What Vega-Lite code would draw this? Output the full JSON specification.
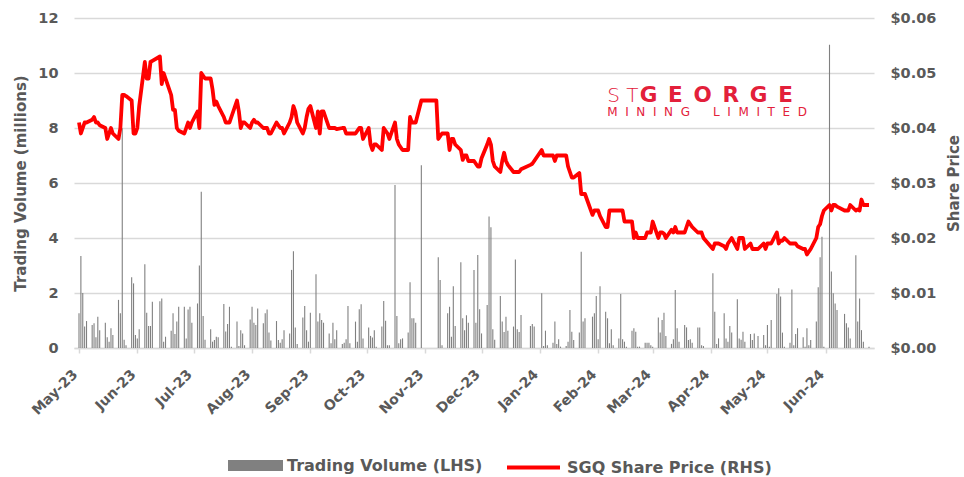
{
  "$schema": "https://vega.github.io/schema/vega-lite/v6.json",
  "width": 800,
  "height": 330,
  "autosize": {"type": "none"},
  "padding": {"left": 74, "top": 18, "right": 90, "bottom": 129},
  "background": "white",
  "data": {"values": [
    {"d":"2023-05-01","v":1.26,"p":0.041},{"d":"2023-05-02","v":3.35,"p":0.039},{"d":"2023-05-03","v":2.0,"p":0.040},{"d":"2023-05-04","v":0.78,"p":0.041},{"d":"2023-05-05","v":0.98,"p":0.041},
    {"d":"2023-05-08","v":0.84,"p":0.0415},{"d":"2023-05-09","v":0.9,"p":0.042},{"d":"2023-05-10","v":0.39,"p":0.041},{"d":"2023-05-11","v":1.14,"p":0.041},{"d":"2023-05-12","v":0.65,"p":0.0405},
    {"d":"2023-05-15","v":0.92,"p":0.040},{"d":"2023-05-16","v":0.39,"p":0.038},{"d":"2023-05-17","v":0.23,"p":0.039},{"d":"2023-05-18","v":0.72,"p":0.040},{"d":"2023-05-19","v":0.47,"p":0.039},
    {"d":"2023-05-22","v":1.75,"p":0.038},{"d":"2023-05-23","v":1.26,"p":0.040},{"d":"2023-05-24","v":7.99,"p":0.046},{"d":"2023-05-25","v":0.3,"p":0.046},{"d":"2023-05-26","v":0.1,"p":0.0458},
    {"d":"2023-05-29","v":2.57,"p":0.045},{"d":"2023-05-30","v":2.35,"p":0.039},{"d":"2023-05-31","v":0.47,"p":0.039},{"d":"2023-06-01","v":0.35,"p":0.040},{"d":"2023-06-02","v":0.68,"p":0.044},
    {"d":"2023-06-05","v":3.05,"p":0.052},{"d":"2023-06-06","v":1.28,"p":0.049},{"d":"2023-06-07","v":0.8,"p":0.049},{"d":"2023-06-08","v":0.8,"p":0.052},{"d":"2023-06-09","v":1.68,"p":0.0522},
    {"d":"2023-06-13","v":1.7,"p":0.053},{"d":"2023-06-14","v":1.8,"p":0.048},{"d":"2023-06-15","v":0.23,"p":0.050},{"d":"2023-06-16","v":0.41,"p":0.049},
    {"d":"2023-06-19","v":0.63,"p":0.046},{"d":"2023-06-20","v":1.26,"p":0.0433},{"d":"2023-06-21","v":0.51,"p":0.0433},{"d":"2023-06-22","v":0.96,"p":0.040},{"d":"2023-06-23","v":1.5,"p":0.0395},
    {"d":"2023-06-26","v":1.5,"p":0.039},{"d":"2023-06-27","v":0.35,"p":0.040},{"d":"2023-06-28","v":1.4,"p":0.041},{"d":"2023-06-29","v":1.5,"p":0.040},{"d":"2023-06-30","v":0.92,"p":0.041},
    {"d":"2023-07-03","v":1.62,"p":0.043},{"d":"2023-07-04","v":3.0,"p":0.040},{"d":"2023-07-05","v":5.68,"p":0.050},{"d":"2023-07-06","v":1.16,"p":0.0495},{"d":"2023-07-07","v":0.3,"p":0.049},
    {"d":"2023-07-10","v":0.68,"p":0.049},{"d":"2023-07-11","v":0.23,"p":0.047},{"d":"2023-07-12","v":0.29,"p":0.0442},{"d":"2023-07-13","v":0.41,"p":0.0448},{"d":"2023-07-14","v":0.39,"p":0.044},
    {"d":"2023-07-17","v":1.6,"p":0.042},{"d":"2023-07-18","v":0.6,"p":0.041},{"d":"2023-07-19","v":0.87,"p":0.041},{"d":"2023-07-20","v":1.5,"p":0.041},{"d":"2023-07-21","v":0.05,"p":0.042},
    {"d":"2023-07-24","v":0.96,"p":0.045},{"d":"2023-07-25","v":0.07,"p":0.043},{"d":"2023-07-26","v":0.65,"p":0.040},{"d":"2023-07-27","v":0.53,"p":0.041},{"d":"2023-07-28","v":0.1,"p":0.041},
    {"d":"2023-07-31","v":1.04,"p":0.040},{"d":"2023-08-01","v":1.5,"p":0.041},{"d":"2023-08-02","v":0.92,"p":0.0415},{"d":"2023-08-03","v":0.84,"p":0.041},{"d":"2023-08-04","v":1.44,"p":0.041},
    {"d":"2023-08-07","v":0.9,"p":0.040},{"d":"2023-08-08","v":1.26,"p":0.040},{"d":"2023-08-09","v":1.4,"p":0.040},{"d":"2023-08-10","v":0.56,"p":0.039},{"d":"2023-08-11","v":0.27,"p":0.039},
    {"d":"2023-08-14","v":0.98,"p":0.041},{"d":"2023-08-15","v":0.29,"p":0.0405},{"d":"2023-08-16","v":0.19,"p":0.040},{"d":"2023-08-17","v":0.32,"p":0.040},{"d":"2023-08-18","v":0.65,"p":0.039},
    {"d":"2023-08-21","v":0.53,"p":0.041},{"d":"2023-08-22","v":2.84,"p":0.042},{"d":"2023-08-23","v":3.52,"p":0.044},{"d":"2023-08-24","v":0.75,"p":0.043},{"d":"2023-08-25","v":0.15,"p":0.041},
    {"d":"2023-08-28","v":1.11,"p":0.039},{"d":"2023-08-29","v":1.53,"p":0.040},{"d":"2023-08-30","v":0.65,"p":0.042},{"d":"2023-08-31","v":0.23,"p":0.0435},{"d":"2023-09-01","v":1.28,"p":0.044},
    {"d":"2023-09-04","v":2.68,"p":0.040},{"d":"2023-09-05","v":0.96,"p":0.043},{"d":"2023-09-06","v":1.26,"p":0.039},{"d":"2023-09-07","v":1.02,"p":0.043},{"d":"2023-09-08","v":0.92,"p":0.043},
    {"d":"2023-09-11","v":0.53,"p":0.040},{"d":"2023-09-12","v":0.17,"p":0.040},{"d":"2023-09-13","v":0.92,"p":0.040},{"d":"2023-09-14","v":0.32,"p":0.040},{"d":"2023-09-15","v":0.65,"p":0.0398},
    {"d":"2023-09-18","v":0.15,"p":0.040},{"d":"2023-09-19","v":0.19,"p":0.040},{"d":"2023-09-20","v":0.32,"p":0.039},{"d":"2023-09-21","v":1.53,"p":0.039},{"d":"2023-09-22","v":0.17,"p":0.039},
    {"d":"2023-09-25","v":0.96,"p":0.039},{"d":"2023-09-26","v":0.23,"p":0.0395},{"d":"2023-09-27","v":1.41,"p":0.040},{"d":"2023-09-28","v":1.59,"p":0.040},{"d":"2023-09-29","v":0.35,"p":0.038},
    {"d":"2023-10-02","v":0.75,"p":0.040},{"d":"2023-10-03","v":0.44,"p":0.037},{"d":"2023-10-04","v":0.38,"p":0.036},{"d":"2023-10-05","v":0.65,"p":0.037},{"d":"2023-10-06","v":0.05,"p":0.037},
    {"d":"2023-10-09","v":0.78,"p":0.036},{"d":"2023-10-10","v":1.71,"p":0.040},{"d":"2023-10-11","v":0.99,"p":0.0395},{"d":"2023-10-12","v":0.1,"p":0.039},{"d":"2023-10-13","v":0.1,"p":0.038},
    {"d":"2023-10-16","v":5.93,"p":0.041},{"d":"2023-10-17","v":1.16,"p":0.038},{"d":"2023-10-18","v":0.17,"p":0.037},{"d":"2023-10-19","v":0.32,"p":0.0365},{"d":"2023-10-20","v":0.35,"p":0.036},
    {"d":"2023-10-23","v":0.56,"p":0.036},{"d":"2023-10-24","v":2.39,"p":0.042},{"d":"2023-10-25","v":1.08,"p":0.041},{"d":"2023-10-26","v":1.08,"p":0.041},{"d":"2023-10-27","v":0.92,"p":0.041},
    {"d":"2023-10-30","v":6.65,"p":0.045},{"d":"2023-10-31","v":0,"p":0.045},{"d":"2023-11-01","v":0,"p":0.045},{"d":"2023-11-02","v":0,"p":0.045},{"d":"2023-11-03","v":0,"p":0.045},
    {"d":"2023-11-06","v":0,"p":0.045},{"d":"2023-11-07","v":0,"p":0.045},{"d":"2023-11-08","v":3.3,"p":0.038},{"d":"2023-11-09","v":2.47,"p":0.0385},{"d":"2023-11-10","v":0.1,"p":0.039},
    {"d":"2023-11-13","v":1.26,"p":0.039},{"d":"2023-11-14","v":1.5,"p":0.036},{"d":"2023-11-15","v":0.41,"p":0.038},{"d":"2023-11-16","v":2.25,"p":0.038},{"d":"2023-11-17","v":0.8,"p":0.037},
    {"d":"2023-11-20","v":3.12,"p":0.036},{"d":"2023-11-21","v":1.08,"p":0.0342},{"d":"2023-11-22","v":0.65,"p":0.035},{"d":"2023-11-23","v":1.19,"p":0.035},{"d":"2023-11-24","v":0.92,"p":0.034},
    {"d":"2023-11-27","v":2.84,"p":0.034},{"d":"2023-11-28","v":0.92,"p":0.0335},{"d":"2023-11-29","v":3.38,"p":0.033},{"d":"2023-11-30","v":1.41,"p":0.033},{"d":"2023-12-01","v":0.53,"p":0.0345},
    {"d":"2023-12-04","v":1.56,"p":0.037},{"d":"2023-12-05","v":4.78,"p":0.038},{"d":"2023-12-06","v":4.39,"p":0.037},{"d":"2023-12-07","v":0.68,"p":0.034},{"d":"2023-12-08","v":0.3,"p":0.033},
    {"d":"2023-12-11","v":1.89,"p":0.032},{"d":"2023-12-12","v":0.96,"p":0.034},{"d":"2023-12-13","v":0.58,"p":0.0355},{"d":"2023-12-14","v":1.14,"p":0.034},{"d":"2023-12-15","v":0.63,"p":0.0333},
    {"d":"2023-12-18","v":0.78,"p":0.032},{"d":"2023-12-19","v":3.22,"p":0.032},{"d":"2023-12-20","v":0.68,"p":0.032},{"d":"2023-12-21","v":0.58,"p":0.032},{"d":"2023-12-22","v":1.2,"p":0.0325},
    {"d":"2023-12-27","v":0.8,"p":0.0333},{"d":"2023-12-28","v":0.87,"p":0.0335},{"d":"2023-12-29","v":0.78,"p":0.034},
    {"d":"2024-01-02","v":1.99,"p":0.036},{"d":"2024-01-03","v":0.07,"p":0.035},{"d":"2024-01-04","v":0.63,"p":0.035},{"d":"2024-01-05","v":0.1,"p":0.035},
    {"d":"2024-01-08","v":0.19,"p":0.035},{"d":"2024-01-09","v":0.96,"p":0.034},{"d":"2024-01-10","v":0.15,"p":0.035},{"d":"2024-01-11","v":0.32,"p":0.035},{"d":"2024-01-12","v":0.05,"p":0.035},
    {"d":"2024-01-15","v":0.07,"p":0.035},{"d":"2024-01-16","v":0.23,"p":0.033},{"d":"2024-01-17","v":1.38,"p":0.032},{"d":"2024-01-18","v":0.59,"p":0.031},{"d":"2024-01-19","v":0.29,"p":0.031},
    {"d":"2024-01-22","v":0.56,"p":0.0318},{"d":"2024-01-23","v":3.5,"p":0.028},{"d":"2024-01-24","v":0.96,"p":0.028},{"d":"2024-01-25","v":1.08,"p":0.028},
    {"d":"2024-01-29","v":1.14,"p":0.0242},{"d":"2024-01-30","v":1.26,"p":0.025},{"d":"2024-01-31","v":1.89,"p":0.025},{"d":"2024-02-01","v":0.32,"p":0.025},{"d":"2024-02-02","v":2.25,"p":0.024},
    {"d":"2024-02-05","v":1.32,"p":0.022},{"d":"2024-02-06","v":1.08,"p":0.022},{"d":"2024-02-07","v":0.17,"p":0.025},{"d":"2024-02-08","v":0.68,"p":0.025},{"d":"2024-02-09","v":0.1,"p":0.025},
    {"d":"2024-02-12","v":0.35,"p":0.025},{"d":"2024-02-13","v":1.96,"p":0.025},{"d":"2024-02-14","v":0.32,"p":0.025},{"d":"2024-02-15","v":0.23,"p":0.023},{"d":"2024-02-16","v":0.05,"p":0.023},
    {"d":"2024-02-19","v":0.63,"p":0.023},{"d":"2024-02-20","v":0.72,"p":0.020},{"d":"2024-02-21","v":0.59,"p":0.021},{"d":"2024-02-22","v":0.05,"p":0.020},{"d":"2024-02-23","v":0.05,"p":0.020},
    {"d":"2024-02-26","v":0.19,"p":0.020},{"d":"2024-02-27","v":0.19,"p":0.021},{"d":"2024-02-28","v":0.19,"p":0.021},{"d":"2024-02-29","v":0.1,"p":0.021},{"d":"2024-03-01","v":0.05,"p":0.023},
    {"d":"2024-03-04","v":1.11,"p":0.020},{"d":"2024-03-05","v":0.56,"p":0.021},{"d":"2024-03-06","v":1.02,"p":0.021},{"d":"2024-03-07","v":1.28,"p":0.0208},{"d":"2024-03-08","v":0.44,"p":0.020},
    {"d":"2024-03-11","v":0.15,"p":0.0215},{"d":"2024-03-12","v":0.32,"p":0.021},{"d":"2024-03-13","v":2.11,"p":0.022},{"d":"2024-03-14","v":0.72,"p":0.021},{"d":"2024-03-15","v":0.23,"p":0.021},
    {"d":"2024-03-18","v":0.84,"p":0.021},{"d":"2024-03-19","v":0.75,"p":0.022},{"d":"2024-03-20","v":0.29,"p":0.023},{"d":"2024-03-21","v":0.32,"p":0.0225},{"d":"2024-03-22","v":0.19,"p":0.022},
    {"d":"2024-03-25","v":0.75,"p":0.021},{"d":"2024-03-26","v":0.75,"p":0.021},{"d":"2024-03-27","v":0.1,"p":0.021},{"d":"2024-03-28","v":0.07,"p":0.020},
    {"d":"2024-04-02","v":2.72,"p":0.018},{"d":"2024-04-03","v":1.32,"p":0.019},{"d":"2024-04-04","v":0.15,"p":0.019},{"d":"2024-04-05","v":0.35,"p":0.019},
    {"d":"2024-04-08","v":1.26,"p":0.0185},{"d":"2024-04-09","v":0.35,"p":0.018},{"d":"2024-04-10","v":0.23,"p":0.019},{"d":"2024-04-11","v":0.8,"p":0.0195},{"d":"2024-04-12","v":0.56,"p":0.020},
    {"d":"2024-04-15","v":1.77,"p":0.018},{"d":"2024-04-16","v":0.35,"p":0.020},{"d":"2024-04-17","v":0.3,"p":0.020},{"d":"2024-04-18","v":0.59,"p":0.020},{"d":"2024-04-19","v":0.23,"p":0.018},
    {"d":"2024-04-22","v":0.51,"p":0.019},{"d":"2024-04-23","v":0.29,"p":0.018},{"d":"2024-04-24","v":0.53,"p":0.018},{"d":"2024-04-26","v":0.44,"p":0.018},
    {"d":"2024-04-29","v":0.47,"p":0.019},{"d":"2024-04-30","v":0.1,"p":0.018},{"d":"2024-05-01","v":0.84,"p":0.019},{"d":"2024-05-02","v":0.05,"p":0.019},{"d":"2024-05-03","v":1.02,"p":0.019},
    {"d":"2024-05-06","v":1.96,"p":0.021},{"d":"2024-05-07","v":2.17,"p":0.019},{"d":"2024-05-08","v":1.87,"p":0.0195},{"d":"2024-05-09","v":0.56,"p":0.0195},{"d":"2024-05-10","v":0.05,"p":0.020},
    {"d":"2024-05-13","v":0.19,"p":0.019},{"d":"2024-05-14","v":2.13,"p":0.019},{"d":"2024-05-15","v":0.1,"p":0.019},{"d":"2024-05-16","v":0.51,"p":0.019},{"d":"2024-05-17","v":0.72,"p":0.0185},
    {"d":"2024-05-20","v":0.39,"p":0.018},{"d":"2024-05-21","v":0.05,"p":0.018},{"d":"2024-05-22","v":0.72,"p":0.017},{"d":"2024-05-23","v":0.1,"p":0.0175},{"d":"2024-05-24","v":0.29,"p":0.018},
    {"d":"2024-05-27","v":0.96,"p":0.020},{"d":"2024-05-28","v":2.21,"p":0.022},{"d":"2024-05-29","v":3.3,"p":0.0225},{"d":"2024-05-30","v":4.05,"p":0.024},{"d":"2024-05-31","v":0.05,"p":0.025},
    {"d":"2024-06-03","v":11.03,"p":0.026},{"d":"2024-06-04","v":2.78,"p":0.025},{"d":"2024-06-05","v":1.99,"p":0.026},{"d":"2024-06-06","v":1.62,"p":0.026},{"d":"2024-06-07","v":1.38,"p":0.0257},
    {"d":"2024-06-11","v":1.24,"p":0.025},{"d":"2024-06-12","v":0.9,"p":0.025},{"d":"2024-06-13","v":0.75,"p":0.025},{"d":"2024-06-14","v":0.35,"p":0.026},
    {"d":"2024-06-17","v":3.37,"p":0.025},{"d":"2024-06-18","v":0.96,"p":0.0252},{"d":"2024-06-19","v":1.8,"p":0.025},{"d":"2024-06-20","v":0.65,"p":0.027},{"d":"2024-06-21","v":0.23,"p":0.026},
    {"d":"2024-06-24","v":0.05,"p":0.026}
  ]},
  "layer": [
    {
      "mark": {"type": "bar", "width": 1.1, "color": "#7f7f7f"},
      "encoding": {
        "x": {
          "field": "d",
          "type": "temporal",
          "title": null,
          "scale": {"type": "utc", "domain": [1682899200000, 1719187200000]},
          "axis": {"format": "%b-%y", "tickCount": {"interval": "month", "step": 1}, "labelOverlap": false, "labelBound": false, "labelFlush": false, "grid": false}
        },
        "y": {
          "field": "v",
          "type": "quantitative",
          "scale": {"domain": [0, 12]},
          "axis": {
            "values": [0, 2, 4, 6, 8, 10, 12],
            "title": "Trading Volume (millions)",
            "labelFontSize": 14.5,
            "labelPadding": 16,
            "titlePadding": 9,
            "domain": false,
            "ticks": false,
            "grid": true
          }
        },
        "color": {
          "datum": "Trading Volume (LHS)",
          "scale": {"range": ["#808080"]},
          "legend": {
            "orient": "none",
            "legendX": 154,
            "legendY": 420,
            "title": null,
            "symbolType": "M-1,-0.2H1V0.2H-1Z",
            "symbolSize": 3025,
            "symbolStrokeWidth": 0,
            "labelOffset": 4
          }
        }
      }
    },
    {
      "mark": {"type": "line", "strokeWidth": 3.8, "color": "#ff0000", "strokeJoin": "round"},
      "encoding": {
        "x": {
          "field": "d",
          "type": "temporal",
          "title": null,
          "scale": {"type": "utc", "domain": [1682899200000, 1719187200000]},
          "axis": {"format": "%b-%y", "tickCount": {"interval": "month", "step": 1}, "labelOverlap": false, "labelBound": false, "labelFlush": false, "grid": false}
        },
        "y": {
          "field": "p",
          "type": "quantitative",
          "scale": {"domain": [0, 0.06]},
          "axis": {
            "orient": "right",
            "values": [0, 0.01, 0.02, 0.03, 0.04, 0.05, 0.06],
            "format": "$.2f",
            "title": "Share Price",
            "labelFontSize": 14.5,
            "labelPadding": 16,
            "titlePadding": 11,
            "titleAngle": 270,
            "titleBaseline": "top",
            "domain": false,
            "ticks": false,
            "grid": false
          }
        },
        "color": {
          "datum": "SGQ Share Price (RHS)",
          "scale": {"range": ["#ff0000"]},
          "legend": {
            "orient": "none",
            "legendX": 431,
            "legendY": 421,
            "title": null,
            "symbolType": "stroke",
            "symbolSize": 2809,
            "symbolStrokeWidth": 4,
            "labelOffset": 5
          }
        }
      }
    },
    {
      "data": {"values": [{"t": "S T"}]},
      "mark": {"type": "text", "align": "left", "baseline": "alphabetic", "font": "DejaVu Sans", "fontWeight": 200, "fontSize": 20, "fill": "#e3203a"},
      "encoding": {
        "x": {"datum": {"year": 2024, "month": 2, "date": 5, "hours": 19, "utc": true}, "type": "temporal", "title": null},
        "y": {"datum": 0.04473, "type": "quantitative", "scale": {"domain": [0, 0.06]}, "axis": null},
        "text": {"field": "t", "type": "nominal"}
      }
    },
    {
      "data": {"values": [{"t": "G\u2002E\u2002O\u2002R\u2002G\u2002E"}]},
      "mark": {"type": "text", "align": "left", "baseline": "alphabetic", "font": "DejaVu Sans", "fontWeight": "bold", "fontSize": 21.5, "fill": "#e3203a"},
      "encoding": {
        "x": {"datum": {"year": 2024, "month": 2, "date": 23, "hours": 2, "utc": true}, "type": "temporal", "title": null},
        "y": {"datum": 0.04473, "type": "quantitative", "scale": {"domain": [0, 0.06]}, "axis": null},
        "text": {"field": "t", "type": "nominal"}
      }
    },
    {
      "data": {"values": [{"t": "M\u2007I\u2007N\u2007I\u2007N\u2007G\u2007\u2007\u2007L\u2007I\u2007M\u2007I\u2007T\u2007E\u2007D"}]},
      "mark": {"type": "text", "align": "left", "baseline": "alphabetic", "font": "DejaVu Sans", "fontWeight": "normal", "fontSize": 12, "fill": "#e3203a"},
      "encoding": {
        "x": {"datum": {"year": 2024, "month": 2, "date": 5, "hours": 19, "utc": true}, "type": "temporal", "title": null},
        "y": {"datum": 0.0421, "type": "quantitative", "scale": {"domain": [0, 0.06]}, "axis": null},
        "text": {"field": "t", "type": "nominal"}
      }
    }
  ],
  "resolve": {"scale": {"y": "independent", "color": "independent"}, "axis": {"y": "independent"}, "legend": {"color": "independent"}},
  "config": {
    "view": {"stroke": null},
    "font": "DejaVu Sans",
    "axis": {
      "labelFont": "DejaVu Sans",
      "labelFontWeight": "bold",
      "labelColor": "#595959",
      "titleFont": "DejaVu Sans",
      "titleFontWeight": "bold",
      "titleColor": "#595959",
      "titleFontSize": 15,
      "gridColor": "#d9d9d9",
      "gridWidth": 1.5
    },
    "axisX": {
      "labelAngle": -45,
      "labelFontSize": 14,
      "labelPadding": 14,
      "labelOffset": -9,
      "domainColor": "#d9d9d9",
      "domainWidth": 1.5,
      "tickColor": "#d9d9d9",
      "tickWidth": 1.5,
      "tickSize": 5,
      "grid": false
    },
    "legend": {
      "labelFont": "DejaVu Sans",
      "labelFontWeight": "bold",
      "labelColor": "#595959",
      "labelFontSize": 16,
      "labelLimit": 400,
      "padding": 0
    }
  }
}
